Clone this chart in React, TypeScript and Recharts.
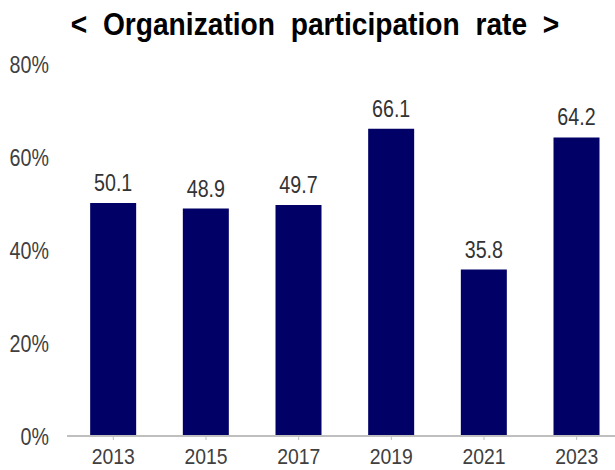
import React from 'react';
import { BarChart, Bar, XAxis, YAxis } from 'recharts';

const years = ['2013', '2015', '2017', '2019', '2021', '2023'];
const rates = [50.1, 48.9, 49.7, 66.1, 35.8, 64.2];
const yTicks = [0, 20, 40, 60, 80];
const title = '< Organization participation rate >';

const data = years.map((y, i) => ({ year: y, rate: rates[i] }));

const FONT = '"Liberation Sans", Arial, sans-serif';
const SX = 0.82;
const FS = 24;

const XTick = (props: any) => {
  const { x, y, payload } = props;
  return (
    <g transform={`translate(${x},${y})`}>
      <text transform="scale(0.88,1)" textAnchor="middle" dy={16} fill="#404040" fontSize={22} fontFamily={FONT}>
        {payload.value}
      </text>
    </g>
  );
};

const YTick = (props: any) => {
  const { x, y, payload } = props;
  return (
    <g transform={`translate(${x},${y})`}>
      <text transform={`scale(${SX},1)`} textAnchor="end" dy={8.5} fill="#404040" fontSize={FS} fontFamily={FONT}>
        {`${payload.value}%`}
      </text>
    </g>
  );
};

const BarLabel = (props: any) => {
  const { x, y, width, value } = props;
  return (
    <g transform={`translate(${x + width / 2},${y - 12})`}>
      <text transform={`scale(${SX},1)`} textAnchor="middle" fill="#333333" fontSize={FS} fontFamily={FONT}>
        {Number(value).toFixed(1)}
      </text>
    </g>
  );
};

export default function App() {
  return (
    <div style={{ position: 'absolute', left: 0, top: 0, width: 615, height: 470, overflow: 'hidden', background: '#fff' }}>
      <div
        style={{
          position: 'absolute',
          left: 0,
          top: 6,
          width: 630,
          textAlign: 'center',
          fontFamily: FONT,
          fontWeight: 'bold',
          fontSize: 32,
          wordSpacing: 9,
          color: '#000',
          lineHeight: '36px',
          whiteSpace: 'nowrap',
          transform: 'scaleX(0.88)',
          transformOrigin: '315px 0',
        }}
      >
        {title}
      </div>
      <BarChart
        width={625}
        height={470}
        data={data}
        margin={{ top: 64, right: 2, left: 0, bottom: 0 }}
        barCategoryGap="25%"
        style={{ position: 'absolute', left: 0, top: 0 }}
      >
        <XAxis
          dataKey="year"
          height={34}
          axisLine={{ stroke: '#bfbfbf', strokeWidth: 2 }}
          tickLine={{ stroke: '#bfbfbf' }}
          tickSize={4}
          tickMargin={8}
          tick={<XTick />}
        />
        <YAxis
          width={67}
          domain={[0, 80]}
          ticks={yTicks}
          axisLine={false}
          tickLine={false}
          tickSize={0}
          tickMargin={18}
          tick={<YTick />}
        />
        <Bar dataKey="rate" fill="#000066" isAnimationActive={false} label={<BarLabel />} />
      </BarChart>
    </div>
  );
}
